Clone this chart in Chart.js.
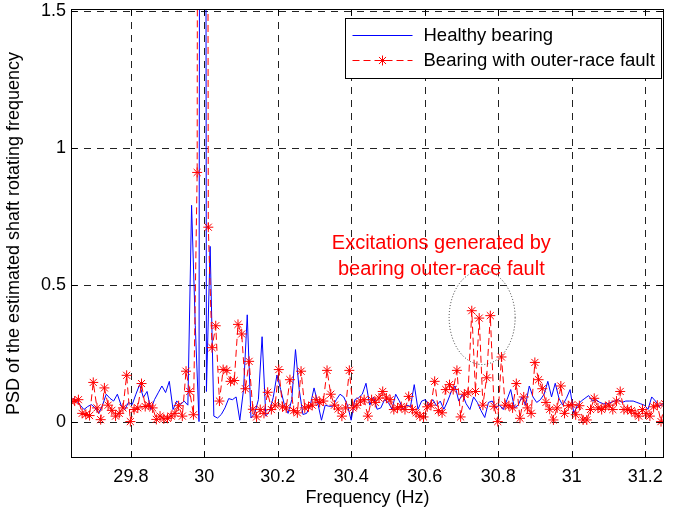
<!DOCTYPE html>
<html>
<head>
<meta charset="utf-8">
<script src="https://cdn.jsdelivr.net/npm/chart.js@4.4.1/dist/chart.umd.min.js"></script>
<style>
  body { margin: 0; background: #fff; }
  #wrap { width: 677px; height: 512px; }
</style>
</head>
<body>
<div id="wrap"><canvas id="chart" width="677" height="512"></canvas></div>
<script>
// frequency bins (Hz): start of each series and bin width
const faultStart = 29.637, healthyStart = 29.642, binWidth = 0.0101;

// PSD of the healthy bearing (blue)
const healthy = [
  0.085, 0.075, 0.06, 0.044, 0.055, 0.062, 0.05, 0.03, 0.06, 0.1,
  0.085, 0.075, 0.1, 0.06, 0.044, 0.07, 0.062, 0.1, 0.135, 0.088,
  0.11, 0.044, 0.08, 0.105, 0.13, 0.106, 0.147, 0.044, 0.075, 0.062,
  0.075, 0.06, 0.79, 0.35, 0.0, 13, 0.11, 0.64, 0.02, 0.013,
  0.026, 0.05, 0.084, 0.08, 0.09, 0.005, 0.117, 0.39, 0.013, 0.03,
  0.08, 0.31, 0.02, 0.038, 0.088, 0.17, 0.117, 0.062, 0.03, 0.08,
  0.263, 0.117, 0.026, 0.03, 0.06, 0.123, 0.068, 0.005, 0.06, 0.056,
  0.056, 0.08, 0.1, 0.09, 0.06, 0.005, 0.08, 0.087, 0.1, 0.14,
  0.06, 0.09, 0.045, 0.05, 0.08, 0.07, 0.045, 0.1, 0.075, 0.045,
  0.06, 0.055, 0.135, 0.045, 0.075, 0.08, 0.06, 0.08, 0.058, 0.075,
  0.045, 0.075, 0.11, 0.13, 0.075, 0.1, 0.065, 0.044, 0.09, 0.07,
  0.04, 0.015, 0.07, 0.075, 0.05, 0.06, 0.044, 0.08, 0.117, 0.05,
  0.06, 0.09, 0.06, 0.13, 0.09, 0.07, 0.08, 0.1, 0.147, 0.09,
  0.14, 0.085, 0.06, 0.085, 0.117, 0.03, 0.06, 0.075, 0.085, 0.095,
  0.075, 0.08, 0.07, 0.065, 0.065, 0.07, 0.075, 0.08, 0.07, 0.075,
  0.075, 0.075, 0.07, 0.065, 0.06, 0.045, 0.09, 0.075, 0.055, 0.065,
  0.07, 0.06
];

// PSD of the bearing with outer-race fault (red, dashed with stars)
const faulty = [
  0.074, 0.075, 0.08, 0.03, 0.026, 0.022, 0.143, 0.05, 0.007, 0.123,
  0.06, 0.041, 0.02, 0.03, 0.05, 0.169, 0.0, 0.044, 0.05, 0.139,
  0.055, 0.06, 0.05, 0.008, 0.02, 0.01, 0.012, 0.02, 0.03, 0.058,
  0.02, 0.184, 0.11, 0.025, 0.91, 14, 11, 0.71, 0.27, 0.35,
  0.075, 0.19, 0.187, 0.147, 0.15, 0.355, 0.32, 0.12, 0.22, 0.045,
  0.017, 0.044, 0.03, 0.107, 0.044, 0.06, 0.19, 0.054, 0.05, 0.153,
  0.04, 0.032, 0.184, 0.05, 0.054, 0.06, 0.08, 0.07, 0.075, 0.187,
  0.1, 0.06, 0.046, 0.02, 0.05, 0.187, 0.05, 0.06, 0.075, 0.08,
  0.02, 0.08, 0.07, 0.086, 0.11, 0.086, 0.08, 0.044, 0.05, 0.055,
  0.044, 0.092, 0.044, 0.032, 0.02, 0.017, 0.054, 0.06, 0.147, 0.04,
  0.032, 0.117, 0.135, 0.117, 0.187, 0.017, 0.1, 0.105, 0.405, 0.11,
  0.378, 0.06, 0.16, 0.387, 0.056, 0.0, 0.236, 0.06, 0.058, 0.05,
  0.139, 0.012, 0.09, 0.05, 0.03, 0.216, 0.153, 0.12, 0.07, 0.045,
  0.006, 0.05, 0.13, 0.03, 0.058, 0.062, 0.025, 0.058, 0.006, 0.006,
  0.044, 0.085, 0.05, 0.044, 0.054, 0.06, 0.044, 0.075, 0.11, 0.044,
  0.044, 0.04, 0.03, 0.02, 0.044, 0.03, 0.02, 0.054, 0.06, 0.0,
  0.065
];

const xTicks = [29.8, 30, 30.2, 30.4, 30.6, 30.8, 31, 31.2];
const yTicks = [0, 0.5, 1, 1.5];
const seriesNames = ['Healthy bearing', 'Bearing with outer-race fault'];
const noteLines = ['Excitations generated by', 'bearing outer-race fault'];
const noteAt = { x: 30.645, y: 0.649 };      // centre of the first text line
const circleAt = { x: 30.756, y: 0.38 };     // centre of dotted ellipse

const FONT = "'Liberation Sans', Arial, Helvetica, sans-serif";

const toPoints = (vals, start) => vals.map((v, i) => ({ x: start + i * binWidth, y: v }));

const drawLine = (ctx, x1, y1, x2, y2) => {
  ctx.beginPath();
  ctx.moveTo(x1, y1);
  ctx.lineTo(x2, y2);
  ctx.stroke();
};

// matlab-like frame: dashed grid under the data, box + inner ticks + legend on top
const matlabFrame = {
  id: 'matlabFrame',
  beforeDatasetsDraw(chart) {
    const { ctx, chartArea: a, scales: { x, y } } = chart;
    ctx.save();
    ctx.strokeStyle = '#222';
    ctx.lineWidth = 1;
    ctx.setLineDash([7, 6]);
    xTicks.forEach(v => {
      const px = Math.round(x.getPixelForValue(v)) + 0.5;
      drawLine(ctx, px, a.top, px, a.bottom);
    });
    yTicks.forEach(v => {
      const py = Math.round(y.getPixelForValue(v)) + 0.5;
      drawLine(ctx, a.left, py, a.right, py);
    });
    ctx.restore();
  },
  afterDatasetsDraw(chart) {
    const { ctx, chartArea: a, scales: { x, y } } = chart;
    ctx.save();

    // dotted ellipse round the fault excitations
    ctx.strokeStyle = '#333';
    ctx.lineWidth = 1;
    ctx.setLineDash([1, 2]);
    ctx.beginPath();
    ctx.ellipse(x.getPixelForValue(circleAt.x), y.getPixelForValue(circleAt.y), 33, 47, 0, 0, Math.PI * 2);
    ctx.stroke();
    ctx.setLineDash([]);

    // annotation
    ctx.fillStyle = '#ff0000';
    ctx.font = '20px ' + FONT;
    ctx.textAlign = 'center';
    ctx.textBaseline = 'middle';
    const nx = x.getPixelForValue(noteAt.x), ny = y.getPixelForValue(noteAt.y);
    noteLines.forEach((t, i) => ctx.fillText(t, nx, ny + i * 26));

    // box and ticks
    ctx.strokeStyle = '#000';
    ctx.lineWidth = 1;
    const L = Math.round(a.left) + 0.5, R = Math.round(a.right) - 0.5;
    const T = Math.round(a.top) + 0.5, B = Math.round(a.bottom) - 0.5;
    ctx.strokeRect(L, T, R - L, B - T);
    xTicks.forEach(v => {
      const px = Math.round(x.getPixelForValue(v)) + 0.5;
      drawLine(ctx, px, B, px, B - 6);
      drawLine(ctx, px, T, px, T + 6);
    });
    yTicks.forEach(v => {
      const py = Math.round(y.getPixelForValue(v)) + 0.5;
      drawLine(ctx, L, py, L + 6, py);
      drawLine(ctx, R, py, R - 6, py);
    });

    // legend
    const lx = 345.5, ly = 18.5, lw = 316, lh = 60;
    ctx.fillStyle = '#fff';
    ctx.fillRect(lx, ly, lw, lh);
    ctx.strokeRect(lx, ly, lw, lh);
    const ds = chart.data.datasets;
    ds.forEach((d, i) => {
      const rowY = ly + 17 + i * 25;
      ctx.strokeStyle = d.borderColor;
      ctx.lineWidth = 1;
      ctx.setLineDash(d.borderDash || []);
      drawLine(ctx, lx + 7, rowY, lx + 67, rowY);
      ctx.setLineDash([]);
      if (d.pointRadius > 0) {
        Chart.helpers.drawPoint(ctx, {
          pointStyle: d.pointStyle, radius: d.pointRadius, rotation: 0, borderWidth: 1
        }, lx + 37, rowY);
      }
      ctx.fillStyle = '#000';
      ctx.font = '18.5px ' + FONT;
      ctx.textAlign = 'left';
      ctx.textBaseline = 'middle';
      ctx.fillText(d.label, lx + 78, rowY);
    });
    ctx.restore();
  }
};

new Chart(document.getElementById('chart'), {
  type: 'line',
  data: {
    datasets: [
      {
        label: seriesNames[0],
        data: toPoints(healthy, healthyStart),
        borderColor: '#0000ff',
        borderWidth: 1,
        pointRadius: 0,
        order: 1
      },
      {
        label: seriesNames[1],
        data: toPoints(faulty, faultStart),
        borderColor: '#ff0000',
        borderWidth: 1,
        borderDash: [7, 4],
        pointStyle: 'star',
        pointRadius: 5,
        pointBorderColor: '#ff0000',
        pointBorderWidth: 1,
        order: 0
      }
    ]
  },
  options: {
    responsive: false,
    animation: false,
    events: [],
    layout: { padding: { top: 9, right: 13, left: 0, bottom: 0 } },
    plugins: { legend: { display: false }, tooltip: { enabled: false } },
    scales: {
      x: {
        type: 'linear',
        min: 29.637,
        max: 31.251,
        afterBuildTicks: s => { s.ticks = xTicks.map(v => ({ value: v })); },
        afterFit: s => { s.height = 54; s.paddingLeft = 0; s.paddingRight = 0; },
        grid: { display: false, drawTicks: false },
        border: { display: false },
        ticks: {
          color: '#000', font: { family: FONT, size: 18 }, padding: 8,
          maxRotation: 0, autoSkip: false, callback: v => String(v)
        },
        title: {
          display: true, text: 'Frequency (Hz)', color: '#000',
          font: { family: FONT, size: 18 }, padding: { top: 0, bottom: 3 }
        }
      },
      y: {
        type: 'linear',
        min: -0.133,
        max: 1.507,
        afterBuildTicks: s => { s.ticks = yTicks.map(v => ({ value: v })); },
        afterFit: s => { s.width = 71; s.paddingTop = 0; s.paddingBottom = 0; },
        grid: { display: false, drawTicks: false },
        border: { display: false },
        ticks: {
          color: '#000', font: { family: FONT, size: 18 }, padding: 5,
          callback: v => String(v)
        },
        title: {
          display: true, text: 'PSD of the estimated shaft rotating frequency', color: '#000',
          font: { family: FONT, size: 18 }, padding: { top: 3, bottom: 0 }
        }
      }
    }
  },
  plugins: [matlabFrame]
});
</script>
</body>
</html>
